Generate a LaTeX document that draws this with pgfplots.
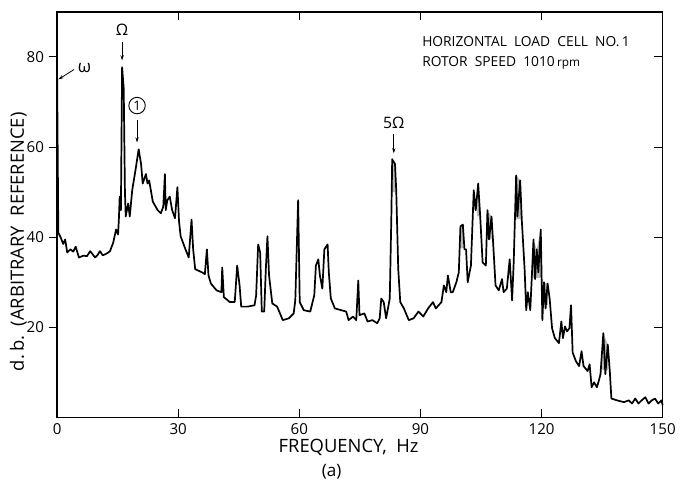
\documentclass[border=0pt]{standalone}
\usepackage{pgfplots}
\pgfplotsset{compat=1.18}
\usepackage{fontspec}
\setmainfont{Open Sans}
\usetikzlibrary{arrows.meta}
\begin{document}
\begin{tikzpicture}
\begin{axis}[name=main, scale only axis, width=461.25pt, height=309pt,
  xmin=0, xmax=150, ymin=0, ymax=90,
  xtick={0,30,60,90,120,150}, xticklabels={0,30,60,90,120,150},
  ytick={20,40,60,80}, yticklabels={20,40,60,80},
  xtick align=inside, ytick align=outside, ytick pos=left,
  major tick length=6.5pt,
  axis line style={line width=1.1pt},
  every tick/.style={black, line width=0.8pt},
  tick label style={font=\fontsize{11.5}{12}\selectfont},
  xticklabel style={yshift=-1pt},
  clip=false]
% shaded (modulated) bands
\addplot[fill=gray!55, draw=none] coordinates {(15.3,45.5)(15.3,49)(15.7,49)(15.7,45.5)} --cycle;
\addplot[fill=gray!55, draw=none] coordinates {(82.9,50)(82.9,57.3)(83.8,56.5)(83.8,50)} --cycle;
\addplot[fill=gray!55, draw=none] coordinates {(99.9,37.5)(99.9,42.4)(100.6,42.8)(100.6,37.5)} --cycle;
\addplot[fill=gray!55, draw=none] coordinates {(103.0,46)(103.2,50.4)(103.6,47)(103.6,46)} --cycle;
\addplot[fill=gray!55, draw=none] coordinates {(104.0,44.6)(104.3,51.9)(104.7,45)(104.7,44.6)} --cycle;
\addplot[fill=gray!55, draw=none] coordinates {(106.6,39.5)(106.6,46)(107.6,44.6)(107.6,39.5)} --cycle;
\addplot[fill=gray!55, draw=none] coordinates {(113.5,44)(113.7,53.7)(114.8,52.6)(114.9,44)} --cycle;
\addplot[fill=gray!55, draw=none] coordinates {(117.6,31)(118.0,39.5)(118.8,37.3)(119.8,41.7)(119.9,31)} --cycle;
\addplot[fill=gray!55, draw=none] coordinates {(120.5,25)(120.6,30.0)(121.5,29.7)(121.6,25)} --cycle;
\addplot[fill=gray!55, draw=none] coordinates {(135.0,10.5)(135.3,18.7)(136.4,16.2)(136.5,10.5)} --cycle;
\addplot[black, line width=1.3pt, line join=round] coordinates {
(0,76)(0.3,41)(0.9,39.9)(1.5,38.5)(2.0,39.5)(2.5,36.6)(3.3,37.3)(4.0,36.8)(4.6,37.9)(5.4,35.5)(6.5,35.9)(7.4,35.8)(8.2,36.9)(8.8,36.2)(9.4,35.5)(10.0,36.0)(10.6,36.9)(11.3,36.0)(11.9,36.2)(12.5,36.5)(13.1,36.9)(13.9,38.8)(14.6,41.7)(15.1,40.6)(15.3,44)(15.5,49)(15.8,46)(16.1,77.7)(16.5,73)(16.8,50)(17.0,44.6)(17.6,47.5)(18.0,44.6)(18.6,50.4)(19.4,54.8)(20.2,59.5)(20.8,56.2)(21.2,51.9)(22.0,54)(22.4,51.9)(22.8,52.6)(23.7,47.9)(24.9,46)(25.7,45.3)(26.3,46.8)(26.7,54)(26.9,46)(27.3,48.2)(27.9,49)(28.5,46)(29.2,44.2)(29.8,51.1)(30.2,43.5)(30.6,40.2)(31.8,37.3)(32.6,35.5)(33.3,43.9)(33.7,37.3)(34.2,32.9)(35.9,32.2)(36.6,31.8)(37.1,37.3)(37.5,31.5)(38.1,29.7)(39.5,28.2)(40.7,27.8)(40.9,33.3)(41.3,26.7)(42.8,25.6)(44.0,25.6)(44.6,33.7)(45.2,29.3)(45.6,24.6)(47.2,24.6)(48.9,24.9)(49.3,27.1)(49.8,38.4)(50.3,36.6)(50.7,23.5)(51.3,23.5)(51.7,32.9)(52.1,40.2)(52.5,31.5)(53.3,25.3)(54.5,24.6)(55.9,21.6)(57.4,22.0)(58.6,23.1)(59.0,26.0)(59.7,48.2)(60.1,25.6)(61.1,23.8)(62.7,23.5)(63.7,27.1)(64.1,33.7)(64.7,35.1)(65.1,31.5)(65.7,28.6)(66.2,37.3)(67.0,38.4)(67.3,32.2)(67.8,26.4)(68.8,24.2)(70.4,23.8)(71.6,23.5)(72.2,21.6)(73.3,22.4)(74.1,21.6)(74.6,30.4)(74.9,22.7)(76.1,23.1)(76.9,21.3)(78.1,21.6)(79.3,20.9)(79.9,22.0)(80.3,26.4)(80.9,25.6)(81.5,22.0)(82.4,26.4)(82.8,45)(83.0,57.3)(83.7,56.2)(84.0,50.4)(84.5,32.9)(85.0,25.6)(85.9,24.2)(87.1,21.6)(88.3,22.0)(89.5,23.5)(90.7,22.4)(91.9,24.2)(93.1,25.6)(93.8,24.2)(95.2,25.6)(95.8,29.3)(96.4,27.8)(96.8,31.5)(97.5,27.8)(98.0,27.8)(98.9,30.0)(99.5,32.2)(99.9,42.4)(100.5,42.8)(100.9,37.3)(101.3,37.3)(101.7,30.0)(102.5,33.7)(103.2,50.4)(103.7,46)(104.3,51.9)(104.8,44.6)(105.4,34.4)(106.2,33.7)(106.6,46)(107.0,39.5)(107.6,44.6)(108.0,38.8)(108.6,29.3)(109.4,28.2)(110.2,30.7)(110.6,27.8)(111.4,28.6)(112.1,35.1)(112.7,26.0)(113.1,34.4)(113.7,53.7)(114.0,44.6)(114.7,52.6)(115.1,43.9)(115.8,32.9)(116.2,23.8)(116.6,27.8)(117.2,23.8)(117.6,31.5)(118.0,39.5)(118.4,30.7)(118.8,37.3)(119.2,32.2)(119.8,41.7)(120.2,21.6)(120.6,30.0)(121.0,24.2)(121.5,29.7)(122.0,26.4)(122.6,19.8)(123.3,17.6)(124.3,16.5)(124.9,21.3)(125.3,17.6)(125.8,20.2)(126.3,19.1)(126.9,19.8)(127.3,24.9)(127.7,14.4)(128.5,12.5)(129.3,11.4)(129.9,14.7)(130.4,11.4)(131.4,10.3)(131.9,11.8)(132.4,6.7)(133.0,7.8)(133.7,6.7)(134.2,8.2)(134.6,9.6)(135.3,18.7)(135.8,9.6)(136.4,16.2)(136.9,10.3)(137.3,4.2)(138.7,3.8)(140.4,3.4)(141.6,3.8)(142.4,3.1)(143.2,4.2)(144.0,3.1)(144.8,3.8)(145.7,4.5)(146.5,3.1)(147.3,3.8)(148.1,4.2)(148.9,3.1)(149.7,3.8)(150,2.7)
};
% annotations
\node[font=\fontsize{12}{12}\selectfont] at (axis cs:16.1,86) {Ω};
\draw[-{Stealth[length=4pt,width=2.5pt]}, line width=0.6pt] (axis cs:16.1,83.2) -- (axis cs:16.1,79.2);
\node[circle, draw, line width=0.7pt, inner sep=1.2pt, font=\fontsize{10}{10}\selectfont] at (axis cs:19.8,69.2) {1};
\draw[-{Stealth[length=4pt,width=2.5pt]}, line width=0.6pt] (axis cs:19.8,66) -- (axis cs:19.8,61);
\node[font=\fontsize{12}{12}\selectfont] at (axis cs:83.4,65.3) {5Ω};
\draw[-{Stealth[length=4pt,width=2.5pt]}, line width=0.6pt] (axis cs:83.4,62.8) -- (axis cs:83.4,58.6);
\node[font=\fontsize{13}{13}\selectfont, anchor=west] at (axis cs:4.0,77.6) {ω};
\draw[-{Stealth[length=4pt,width=2.5pt]}, line width=0.6pt] (axis cs:4.2,77.2) -- (axis cs:0.3,75);
\node[anchor=west, font=\fontsize{10.5}{12}\selectfont] at (axis cs:89.3,83.3) {HORIZONTAL\ \ LOAD\ \ CELL\ \ NO.\,1};
\node[anchor=west, font=\fontsize{10.5}{12}\selectfont] at (axis cs:89.3,78.6) {ROTOR\ \ SPEED\ \ 1010\,{\fontsize{9}{10}\selectfont rpm}};
\node[font=\fontsize{14}{16}\selectfont] at (axis cs:72.2,-6.6) {FREQUENCY,\ \ Hz};
\node[font=\fontsize{13}{16}\selectfont] at (axis cs:68,-12) {(a)};
\node[rotate=90, font=\fontsize{14}{16}\selectfont] at (axis cs:-9.6,39) {d.\,b.\ \ (ARBITRARY\ \ REFERENCE)};
\end{axis}
\begin{axis}[scale only axis, width=461.25pt, height=309pt,
  xmin=0, xmax=150, ymin=0, ymax=90,
  xtick=\empty, ytick={20,40,60,80}, yticklabels={},
  ytick pos=right, ytick align=inside, major tick length=6.5pt,
  axis line style={line width=1.1pt},
  every tick/.style={black, line width=0.8pt}]
\end{axis}
\path ([shift={(-43.5pt,-49.5pt)}]main.south west) rectangle ++(510pt,367.5pt);
\end{tikzpicture}
\end{document}
